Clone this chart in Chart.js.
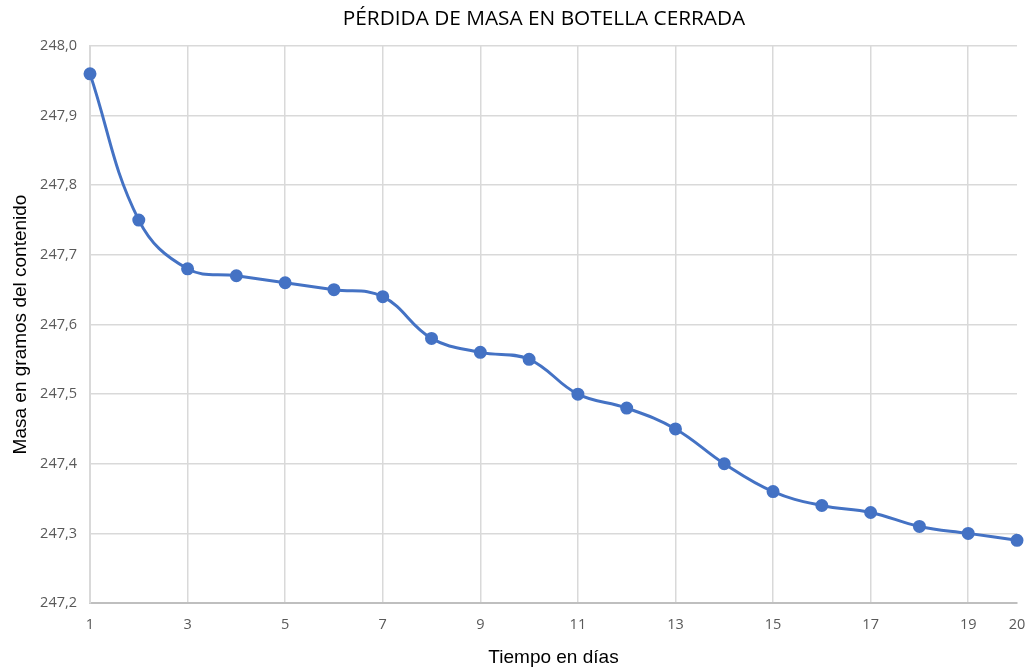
<!DOCTYPE html>
<html>
<head>
<meta charset="utf-8">
<script src="https://cdn.jsdelivr.net/npm/chart.js@4/dist/chart.umd.min.js"></script>
<style>
  html, body { margin: 0; padding: 0; background: #fff; }
  #wrap { width: 1034px; height: 669px; }
</style>
</head>
<body>
<div id="wrap"><canvas id="masa" width="1034" height="669"></canvas></div>
<script>
// dias y masa (g)
const dias = [1, 2, 3, 4, 5, 6, 7, 8, 9, 10, 11, 12, 13, 14, 15, 16, 17, 18, 19, 20];
const masa = [247.96, 247.75, 247.68, 247.67, 247.66, 247.65, 247.64, 247.58, 247.56, 247.55,
              247.50, 247.48, 247.45, 247.40, 247.36, 247.34, 247.33, 247.31, 247.30, 247.29];
const xTicks = [1, 3, 5, 7, 9, 11, 13, 15, 17, 19, 20];

const titulo = 'PÉRDIDA DE MASA EN BOTELLA CERRADA';
const tituloX = 'Tiempo en días';
const tituloY = 'Masa en gramos del contenido';

const puntos = dias.map((d, i) => ({ x: d, y: masa[i] }));

// title drawn by hand, the original sits a bit right of the canvas centre
const tituloPlugin = {
    id: 'tituloPlugin',
    afterDraw(chart) {
        const c = chart.ctx;
        c.save();
        c.font = '20.8px "Open Sans", sans-serif';
        c.fillStyle = '#000';
        c.textAlign = 'center';
        c.textBaseline = 'middle';
        c.fillText(titulo, 544, 19);
        c.restore();
    }
};

const ctx = document.getElementById('masa').getContext('2d');
const chart = new Chart(ctx, {
    type: 'line',
    data: {
        datasets: [{
            data: puntos,
            borderColor: '#4472C4',
            backgroundColor: '#4472C4',
            borderWidth: 3,
            pointRadius: 5,
            pointHoverRadius: 5,
            tension: 0.4,
            clip: false
        }]
    },
    options: {
        responsive: false,
        animation: false,
        layout: { padding: { left: 0, right: 17, top: 46, bottom: 0 } },
        plugins: {
            legend: { display: false },
            tooltip: { enabled: false },
            title: { display: false }
        },
        scales: {
            x: {
                type: 'linear',
                min: 1,
                max: 20,
                afterBuildTicks: (scale) => { scale.ticks = xTicks.map(v => ({ value: v })); },
                afterFit: (scale) => {
                    scale.height = 66;
                    scale.paddingLeft = 0;
                    scale.paddingRight = 0;
                },
                grid: {
                    color: (c) => c.tick && c.tick.value === 20 ? 'rgba(0,0,0,0)' : '#d9d9d9',
                    lineWidth: 1.5,
                    drawTicks: false
                },
                border: { color: '#bfbfbf', width: 2 },
                ticks: {
                    color: '#595959',
                    padding: 13,
                    maxRotation: 0,
                    autoSkip: false,
                    font: { family: '"Open Sans", sans-serif', size: 14.5 }
                },
                title: {
                    display: true,
                    text: tituloX,
                    color: '#000',
                    font: { family: '"Liberation Sans", Arial, sans-serif', size: 19 },
                    padding: { top: 0, bottom: 0 }
                }
            },
            y: {
                min: 247.2,
                max: 248.0,
                afterFit: (scale) => {
                    scale.width = 90;
                    scale.paddingTop = 0;
                    scale.paddingBottom = 0;
                },
                grid: { color: '#d9d9d9', lineWidth: 1.5, drawTicks: false },
                border: { color: '#d9d9d9', width: 2 },
                ticks: {
                    stepSize: 0.1,
                    color: '#595959',
                    padding: 13,
                    font: { family: '"Open Sans", sans-serif', size: 14.5 },
                    callback: (v) => Number(v).toFixed(1).replace('.', ',')
                },
                title: {
                    display: true,
                    text: tituloY,
                    color: '#000',
                    font: { family: '"Liberation Sans", Arial, sans-serif', size: 19 },
                    padding: { top: 9, bottom: 0 }
                }
            }
        }
    },
    plugins: [tituloPlugin]
});
</script>
</body>
</html>
